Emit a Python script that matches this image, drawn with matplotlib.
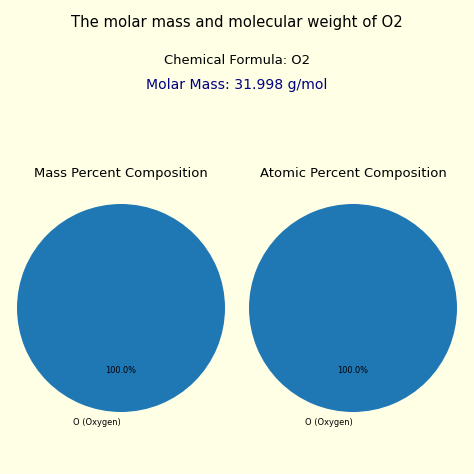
import matplotlib
matplotlib.use("Agg")
import matplotlib.pyplot as plt

title = "The molar mass and molecular weight of O2"
formula_text = "Chemical Formula: O2"
molar_mass_text = "Molar Mass: 31.998 g/mol"
elements = ["O (Oxygen)"]
mass_percent = [100.0]
atomic_percent = [100.0]
pie_titles = ["Mass Percent Composition", "Atomic Percent Composition"]

bg = "#FFFFE6"
W = 474.0
fig = plt.figure(figsize=(8, 8), dpi=59.25, facecolor=bg)

fig.text(0.5, 1 - 22 / W, title, ha="center", va="center", fontsize=18)
fig.text(0.5, 1 - 61 / W, formula_text, ha="center", va="center", fontsize=16)
fig.text(0.5, 1 - 85 / W, molar_mass_text, ha="center", va="center", fontsize=17, color="navy")

r = 104.0
size = r * 2.5
cy = 308.0
for cx, vals, t in [(121.0, mass_percent, pie_titles[0]), (353.0, atomic_percent, pie_titles[1])]:
    ax = fig.add_axes([(cx - size / 2) / W, 1 - (cy + size / 2) / W, size / W, size / W])
    wedges, texts, autotexts = ax.pie(vals, labels=elements, autopct="%1.1f%%",
                                      startangle=90, colors=["#1f77b4"])
    for tx in texts:
        tx.set_ha("right")
    ax.set_aspect("equal")
    ax.text(0.5, 1 - (173 - (cy - size / 2)) / size, t, transform=ax.transAxes,
            ha="center", va="center", fontsize=16)

fig.savefig("out.png", dpi=59.25, facecolor=bg)
